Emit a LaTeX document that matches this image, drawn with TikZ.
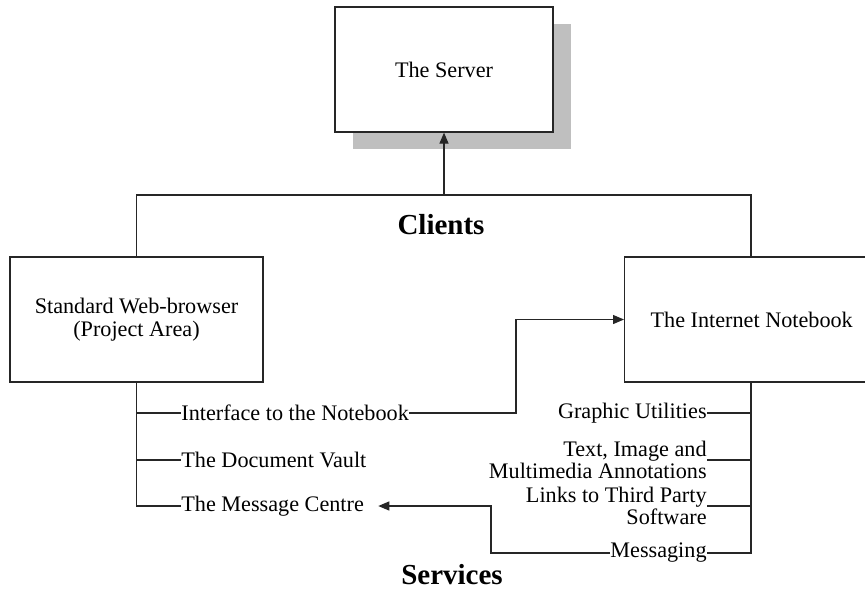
\documentclass[tikz,border=0pt]{standalone}
\usepackage{fontspec}
\setmainfont{Liberation Serif}
\usetikzlibrary{arrows.meta,shadows}

\begin{document}
\begin{tikzpicture}[x=0.5pt,y=-0.5pt,
  every node/.style={font=\fontsize{11.1}{11.3}\selectfont, inner sep=0pt},
  box/.style={draw=black!85, line width=0.6pt, fill=white, minimum height=62.5pt},
  head/.style={font=\fontsize{14.5}{16}\selectfont\bfseries},
  wire/.style={draw=black!85, line width=0.6pt},
  arr/.style={wire, -{Triangle[length=5.5pt,width=4.5pt]}}]
  \clip (0,0) rectangle (865,590);

   \draw (444,69.5) node[box, minimum width=109pt,
      drop shadow={shadow xshift=8.75pt, shadow yshift=-8.25pt, fill=black!25, opacity=1}] (server) {The Server};
   \draw (441,225) node[head] (clients) {Clients};
   \draw (136.5,319.5) node[box, minimum width=126.5pt, align=center] (browser) {Standard Web-browser\\(Project Area)};
   \draw (624,319.5) node[box, anchor=west, text width=140pt, inner xsep=13pt, align=flush left] (notebook) {The Internet Notebook};

   \draw (181,413) node[anchor=west] (iface) {Interface to the Notebook};
   \draw (181,460) node[anchor=west] (vault) {The Document Vault};
   \draw (181,506) node[anchor=west] (centre) {The Message Centre};

   \draw (707,413) node[anchor=east] (graphic) {Graphic Utilities};
   \draw (707,460) node[anchor=east, align=right] (annot) {Text, Image and\\Multimedia Annotations};
   \draw (707,506) node[anchor=east, align=right] (links) {Links to Third Party\\Software};
   \draw (707,553) node[anchor=east] (messaging) {Messaging};
   \draw (452,575) node[head] (services) {Services};

   \coordinate (ltop) at (136.5,195);
   \coordinate (rtop) at (751,195);
   \coordinate (jogA) at (516,413);
   \coordinate (jogB) at (491,506);

   \draw[wire] (browser.north) -- (ltop) -- (rtop) -- (rtop |- notebook.north);
   \draw[arr] (server.south |- ltop) -- (server.south);

   \draw[wire] (browser.south) |- (centre.west);
   \path[wire] (browser.south |- iface.west) edge (iface.west)
               (browser.south |- vault.west) edge (vault.west);
   \draw[arr] (iface.east) -- (jogA) |- (notebook.west);

   \draw[wire] (rtop |- notebook.south) -- (rtop |- messaging.east) -- (messaging.east);
   \path[wire] (rtop |- graphic.east) edge (graphic.east)
               (rtop |- annot.east) edge (annot.east)
               (rtop |- links.east) edge (links.east);
   \draw[arr, shorten >=7pt] (messaging.west) -| (jogB) -- (centre.east);

\end{tikzpicture}
\end{document}
